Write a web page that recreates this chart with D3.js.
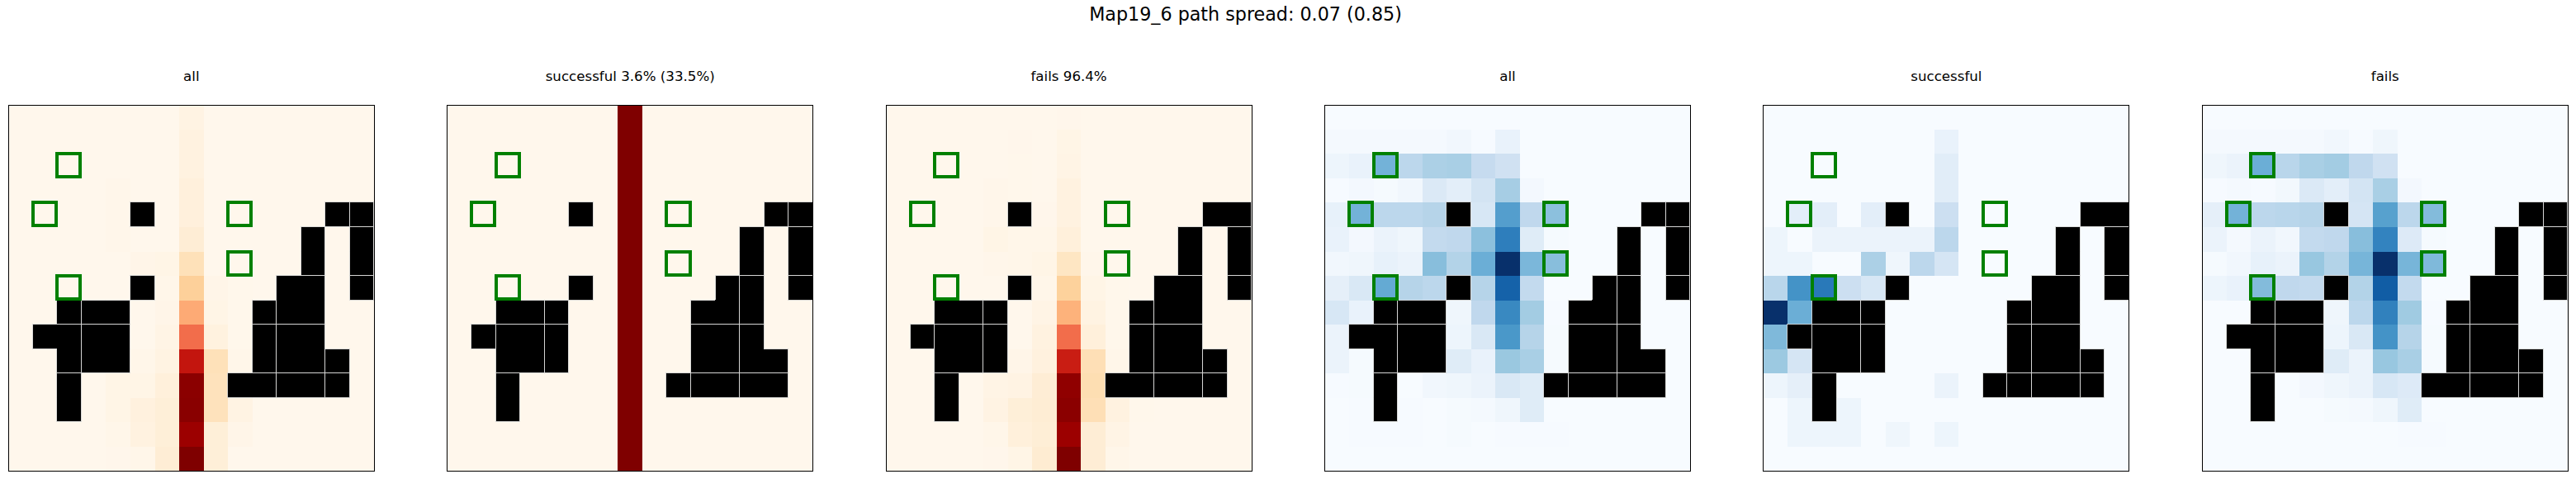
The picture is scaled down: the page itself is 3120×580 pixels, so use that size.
<!DOCTYPE html>
<html><head><meta charset="utf-8">
<script src="https://cdn.jsdelivr.net/npm/d3@7/dist/d3.min.js"></script>
<style>html,body{margin:0;padding:0;background:#fff}svg{display:block}text{font-family:"DejaVu Sans";fill:#000}</style>
</head><body><svg id="c" width="3120" height="580"></svg>
<script>
const figureTitle = "Map19_6 path spread: 0.07 (0.85)";
const panelTitles = ["all","successful 3.6% (33.5%)","fails 96.4%","all","successful","fails"];
const palettes = ["OrRd","OrRd","OrRd","Blues","Blues","Blues"];
const walls = [[4,5],[4,13],[4,14],[5,12],[5,14],[6,12],[6,14],[7,5],[7,11],[7,12],[7,14],
 [8,2],[8,3],[8,4],[8,10],[8,11],[8,12],[9,1],[9,2],[9,3],[9,4],[9,10],[9,11],[9,12],
 [10,2],[10,3],[10,4],[10,10],[10,11],[10,12],[10,13],[11,2],[11,9],[11,10],[11,11],[11,12],[11,13],[12,2]];
const targets = [[2,2],[4,1],[4,9],[6,9],[7,2]];

const orangeAll = [
[0,0,0,0,0,0,0,.03,0,0,0,0,0,0,0],
[0,0,0,0,0,0,0,.04,0,0,0,0,0,0,0],
[0,0,0,0,0,0,0,.04,0,0,0,0,0,0,0],
[0,0,0,0,.008,0,0,.055,0,0,0,0,0,0,0],
[0,0,0,0,.008,0,0,.055,0,0,0,0,0,0,0],
[0,0,0,0,.008,0,0,.08,0,0,0,0,0,0,0],
[0,0,0,0,0,.015,.02,.17,0,0,0,0,0,0,0],
[0,0,0,0,0,0,.01,.27,.015,.002,0,0,0,0,0],
[0,0,0,0,0,0,.015,.42,.02,.002,0,0,0,0,0],
[0,0,0,0,0,0,.025,.6,.045,.002,0,0,0,0,0],
[0,0,0,0,0,.01,.035,.82,.17,.01,0,0,0,0,0],
[0,0,0,0,.02,.02,.06,.97,.16,0,0,0,0,0,0],
[0,0,0,0,.02,.05,.07,.975,.16,.03,0,0,0,0,0],
[0,0,0,0,.01,.04,.07,.93,.07,.015,0,0,0,0,0],
[0,0,0,0,.005,.01,.08,1,.07,0,0,0,0,0,0]];
const orangeSuccess = [
[0,0,0,0,0,0,0,1,0,0,0,0,0,0,0],
[0,0,0,0,0,0,0,1,0,0,0,0,0,0,0],
[0,0,0,0,0,0,0,1,0,0,0,0,0,0,0],
[0,0,0,0,0,0,0,1,0,0,0,0,0,0,0],
[0,0,0,0,0,0,0,1,0,0,0,0,0,0,0],
[0,0,0,0,0,0,0,1,0,0,0,0,0,0,0],
[0,0,0,0,0,0,0,1,0,0,0,0,0,0,0],
[0,0,0,0,0,0,0,1,0,0,0,0,0,0,0],
[0,0,0,0,0,0,0,1,0,0,0,0,0,0,0],
[0,0,0,0,0,0,0,1,0,0,0,0,0,0,0],
[0,0,0,0,0,0,0,1,0,0,0,0,0,0,0],
[0,0,0,0,0,0,0,1,0,0,0,0,0,0,0],
[0,0,0,0,0,0,0,1,0,0,0,0,0,0,0],
[0,0,0,0,0,0,0,1,0,0,0,0,0,0,0],
[0,0,0,0,0,0,0,1,0,0,0,0,0,0,0]];
const orangeFail = [
[0,0,0,0,0,0,0,.005,0,0,0,0,0,0,0],
[0,0,0,0,0,.005,0,.02,0,0,0,0,0,0,0],
[0,0,0,0,0,.003,0,.025,0,0,0,0,0,0,0],
[0,0,0,0,.008,.003,0,.04,0,0,0,0,0,0,0],
[0,0,0,0,.008,0,.005,.04,0,0,0,0,0,0,0],
[0,0,0,0,.02,.01,.012,.06,0,0,0,0,0,0,0],
[0,0,0,0,.008,.01,.02,.14,.006,0,0,0,0,0,0],
[0,0,0,0,0,0,.01,.26,.02,.002,0,0,0,0,0],
[0,0,0,0,0,0,.025,.4,.035,.002,0,0,0,0,0],
[0,0,0,0,0,0,.04,.6,.06,.002,0,0,0,0,0],
[0,0,0,0,0,.015,.05,.8,.18,.01,0,0,0,0,0],
[0,0,0,0,.025,.03,.08,.96,.19,0,0,0,0,0,0],
[0,0,0,0,.03,.07,.085,.97,.18,.04,.003,0,0,0,0],
[0,0,0,0,.01,.06,.075,.93,.08,.025,0,0,0,0,0],
[0,0,0,0,.005,.02,.09,1,.08,.01,0,0,0,0,0]];
const blueAll = [
[0,0,0,0,0,0,0,0,0,0,0,0,0,0,0],
[.015,.015,.015,.015,.015,.03,.005,.07,0,0,0,0,0,0,0],
[.05,.07,.48,.28,.33,.34,.25,.2,0,0,0,0,0,0,0],
[.005,.02,.01,.03,.14,.1,.18,.35,.02,0,0,0,0,0,0],
[.08,.48,.28,.28,.3,0,.16,.57,.27,.42,0,0,0,0,0],
[.07,.02,.06,.04,.26,.27,.42,.7,.12,.01,0,0,0,0,0],
[.03,.04,.08,.06,.43,.31,.5,1,.46,.43,0,0,0,0,0],
[.09,.15,.52,.3,.28,0,.3,.81,.26,0,0,0,0,0,0],
[.16,.07,0,0,0,.04,.27,.66,.36,.005,0,0,0,0,0],
[.06,0,0,0,0,.05,.15,.6,.3,.01,0,0,0,0,0],
[.06,.01,0,0,0,.12,.07,.385,.34,.01,0,0,0,0,0],
[.005,.01,0,0,.03,.04,.06,.15,.12,0,0,0,0,0,0],
[0,.005,0,.005,0,.01,.015,.04,.12,0,0,0,0,0,0],
[0,.005,.005,.005,0,.008,0,.005,.005,.004,0,0,0,0,0],
[0,0,0,0,0,0,0,0,0,0,0,0,0,0,0]];
const blueSuccess = [
[0,0,0,0,0,0,0,0,0,0,0,0,0,0,0],
[0,0,0,0,0,0,0,.07,0,0,0,0,0,0,0],
[0,0,0,0,0,0,0,.11,0,0,0,0,0,0,0],
[0,0,0,0,0,0,0,.11,0,0,0,0,0,0,0],
[0,.1,.1,0,.1,0,0,.22,0,0,0,0,0,0,0],
[.05,0,.06,.06,.06,.06,.06,.28,0,0,0,0,0,0,0],
[.05,.05,0,0,.33,.04,.28,.17,0,0,0,0,0,0,0],
[.29,.62,.72,.22,.16,0,0,0,0,0,0,0,0,0,0],
[1,.5,0,0,0,0,0,0,0,0,0,0,0,0,0],
[.45,0,0,0,0,0,0,0,0,0,0,0,0,0,0],
[.38,.17,0,0,0,0,0,0,0,0,0,0,0,0,0],
[.05,.09,0,0,0,0,0,.06,0,0,0,0,0,0,0],
[0,.05,0,.05,0,0,0,0,0,0,0,0,0,0,0],
[0,.05,.05,.05,0,.04,0,.05,0,0,0,0,0,0,0],
[0,0,0,0,0,0,0,0,0,0,0,0,0,0,0]];
const blueFail = [
[0,0,0,0,0,0,0,0,0,0,0,0,0,0,0],
[.015,.015,.015,.015,.015,.03,.007,.04,0,0,0,0,0,0,0],
[.04,.06,.5,.29,.34,.36,.27,.2,0,0,0,0,0,0,0],
[.004,.015,.007,.025,.14,.1,.18,.34,.02,0,0,0,0,0,0],
[.09,.48,.28,.29,.3,0,.17,.56,.28,.44,0,0,0,0,0],
[.06,.015,.06,.03,.26,.27,.43,.68,.13,.01,0,0,0,0,0],
[.01,.03,.08,.06,.39,.31,.47,1,.47,.45,0,0,0,0,0],
[.05,.07,.44,.27,.26,0,.31,.83,.26,0,0,0,0,0,0],
[0,0,0,0,0,.04,.28,.69,.37,.005,0,0,0,0,0],
[0,0,0,0,0,.05,.15,.62,.3,.01,0,0,0,0,0],
[0,0,0,0,0,.12,.06,.39,.34,.01,0,0,0,0,0],
[0,0,0,0,.02,.04,.06,.16,.13,0,0,0,0,0,0],
[0,0,0,0,0,.01,.015,.04,.12,0,0,0,0,0,0],
[0,0,0,0,0,0,0,0,.005,.005,0,0,0,0,0],
[0,0,0,0,0,0,0,0,0,0,0,0,0,0,0]];
const panels = [orangeAll,orangeSuccess,orangeFail,blueAll,blueSuccess,blueFail];

const firstLeft = 10.3, pitch = 531.4, side = 443, panelTop = 127.3, figH = 580;
const svg = d3.select("#c");
svg.append("text").attr("x",1508.5).attr("y",25).attr("text-anchor","middle")
  .style("font-size","22.22px").text(figureTitle);
const ramps = {OrRd:d3.schemeOrRd[9], Blues:d3.schemeBlues[9]};
const idx = d3.range(15);
const wallSet = new Set(walls.map(d=>d.join()));
const isWall = (r,c)=>wallSet.has(r+","+c);
const frac = v=>v-Math.floor(v);

panels.forEach((grid,p)=>{
  const L = firstLeft + p*pitch;
  const x = d3.scaleLinear().domain([0,15]).range([L,L+side]);
  const y = d3.scaleLinear().domain([0,15]).range([panelTop,panelTop+side]);
  const ramp = ramps[palettes[p]];
  const color = d3.scaleLinear().domain(ramp.map((_,i)=>i/8)).range(ramp).interpolate(d3.interpolateRgb);
  const g = svg.append("g").attr("shape-rendering","crispEdges");
  const rx = v=>Math.round(x(v)), ry = v=>Math.round(y(v));
  // a seam between two wall cells survives only where the snapped edge leaves a gap
  const seamX = c=>frac(x(c)+.25)<.5, seamY = r=>frac(figH-y(r)+.25)<.5;
  g.append("g").selectAll("rect")
    .data(idx.flatMap(r=>idx.map(c=>({r,c,v:grid[r][c]})))).join("rect")
    .attr("x",d=>rx(d.c)).attr("y",d=>ry(d.r))
    .attr("width",d=>rx(d.c+1)-rx(d.c)).attr("height",d=>ry(d.r+1)-ry(d.r))
    .attr("fill",d=>color(d.v));
  g.append("g").selectAll("rect").data(walls).join("rect")
    .attr("x",d=>rx(d[1])-.5).attr("y",d=>ry(d[0])-.5)
    .attr("width",d=>rx(d[1]+1)-rx(d[1])).attr("height",d=>ry(d[0]+1)-ry(d[0]))
    .attr("fill","none").attr("stroke","#d4d4d4").attr("stroke-opacity",.85).attr("stroke-width",1);
  g.append("g").selectAll("rect").data(walls).join("rect")
    .attr("x",d=>rx(d[1])-(isWall(d[0],d[1]-1)&&!seamX(d[1])?1:0))
    .attr("y",d=>ry(d[0])-(isWall(d[0]-1,d[1])&&!seamY(d[0])?1:0))
    .attr("width",d=>rx(d[1]+1)-rx(d[1])-1+(isWall(d[0],d[1]-1)&&!seamX(d[1])?1:0))
    .attr("height",d=>ry(d[0]+1)-ry(d[0])-1+(isWall(d[0]-1,d[1])&&!seamY(d[0])?1:0))
    .attr("fill","#000");
  g.append("g").selectAll("rect").data(targets).join("rect")
    .attr("x",d=>rx(d[1])).attr("y",d=>ry(d[0]))
    .attr("width",d=>rx(d[1]+.95)-rx(d[1])).attr("height",d=>ry(d[0]+.95)-ry(d[0]))
    .attr("fill","none").attr("stroke","#008000").attr("stroke-width",4);
  g.append("rect")
    .attr("x",Math.floor(L)+.5).attr("y",Math.floor(panelTop)+.5)
    .attr("width",side).attr("height",side)
    .attr("fill","none").attr("stroke","#000").attr("stroke-width",1);
  svg.append("text").attr("x",L+side/2).attr("y",98).attr("text-anchor","middle")
    .style("font-size","16.67px").text(panelTitles[p]);
});
</script></body></html>
